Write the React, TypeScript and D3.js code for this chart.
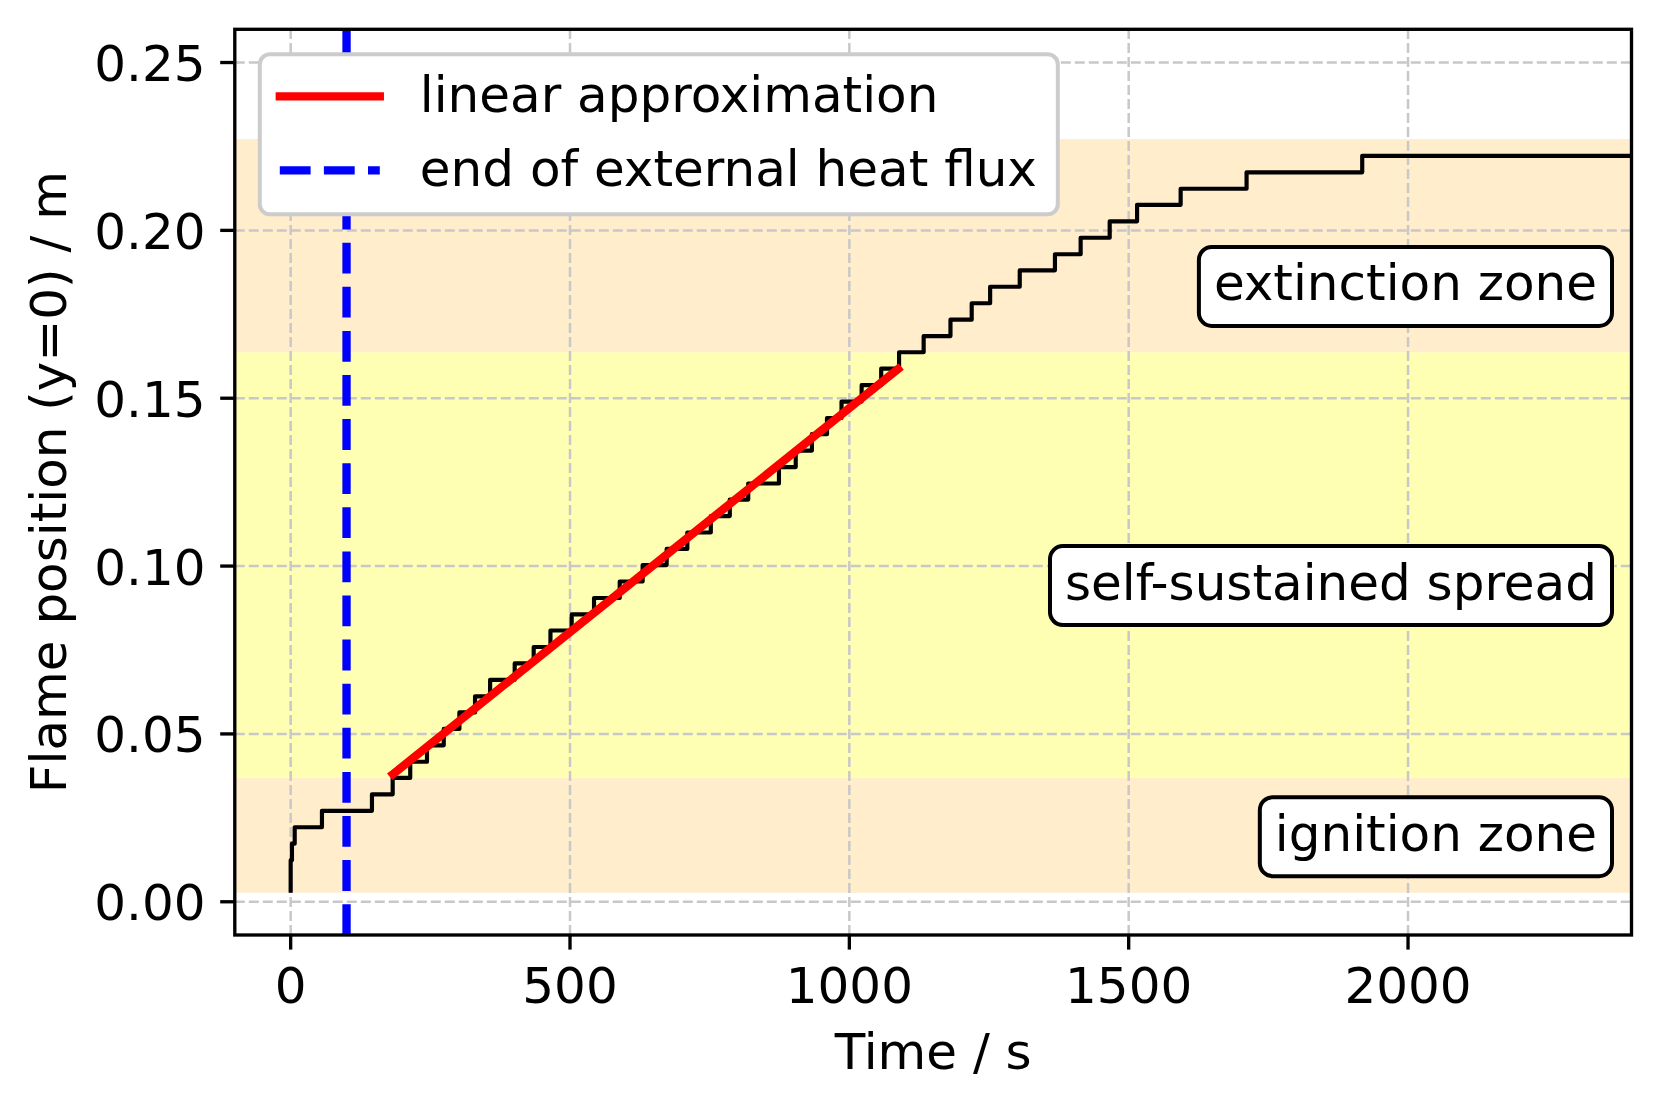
import React, { useRef, useEffect } from 'react';
import * as d3 from 'd3';

// ─── 数据 ────────────────────────────────────────────────────
// flame front position (y=0) vs time
const stepTimes = [
  0, 0, 0, 2.3, 7.2, 56, 145.5, 182.6, 214, 244, 274, 302, 330, 357, 401, 435,
  465, 503, 543, 589, 630, 673, 710, 752, 786, 819, 874, 904, 933, 960, 986,
  1022, 1057, 1089, 1133, 1181, 1219, 1252, 1305, 1368, 1414, 1466, 1515,
  1593, 1711, 1918, 2400,
];
const stepPositions = [
  0.0027, 0.0076, 0.0124, 0.0173, 0.0222, 0.0271, 0.0320, 0.0369, 0.0417,
  0.0466, 0.0515, 0.0564, 0.0612, 0.0661, 0.0710, 0.0759, 0.0808, 0.0856,
  0.0905, 0.0954, 0.1003, 0.1051, 0.1100, 0.1149, 0.1198, 0.1246, 0.1295,
  0.1344, 0.1393, 0.1441, 0.1490, 0.1539, 0.1588, 0.1637, 0.1685, 0.1734,
  0.1783, 0.1832, 0.1881, 0.1929, 0.1978, 0.2027, 0.2076, 0.2124, 0.2173,
  0.2222, 0.2222,
];

// linear fit over the self-sustained part
const fitTimes = [183, 1087];
const fitPositions = [0.038, 0.1587];

const heatFluxEndTime = 100;

const zoneNames = ['ignition zone', 'self-sustained spread', 'extinction zone'];
const zoneBottoms = [0.0027, 0.0369, 0.1637];
const zoneTops = [0.0369, 0.1637, 0.2272];
const zoneLabelPositions = [0.0194, 0.0942, 0.1833];

const xTicks = [0, 500, 1000, 1500, 2000];
const yTicks = [0, 0.05, 0.1, 0.15, 0.2, 0.25];

const legendLabels = ['linear approximation', 'end of external heat flux'];

// ─── 样式 ────────────────────────────────────────────────────
const W = 1659;
const H = 1107;
const FONT = '"DejaVu Sans", sans-serif';
const FS = 50;
const zoneFills = ['#ffedcc', '#ffffb3', '#ffedcc'];

const plot = { left: 234.8, right: 1631.5, top: 29.3, bottom: 935 };

const App: React.FC = () => {
  const svgRef = useRef<SVGSVGElement>(null);

  useEffect(() => {
    if (!svgRef.current) return;
    const svg = d3.select(svgRef.current);
    svg.selectAll('*').remove();

    const x = d3.scaleLinear().domain([-100, 2400]).range([plot.left, plot.right]);
    const y = d3.scaleLinear().domain([-0.0099, 0.2599]).range([plot.bottom, plot.top]);

    svg.append('rect').attr('width', W).attr('height', H).attr('fill', '#fff');

    svg.append('defs').append('clipPath').attr('id', 'plotClip')
      .append('rect')
      .attr('x', plot.left).attr('y', plot.top)
      .attr('width', plot.right - plot.left)
      .attr('height', plot.bottom - plot.top);

    const g = svg.append('g').attr('clip-path', 'url(#plotClip)');

    // ─── 区域色带 ───
    zoneNames.forEach((_, i) => {
      g.append('rect')
        .attr('x', plot.left)
        .attr('width', plot.right - plot.left)
        .attr('y', y(zoneTops[i]))
        .attr('height', y(zoneBottoms[i]) - y(zoneTops[i]))
        .attr('fill', zoneFills[i]);
    });

    // ─── 网格 ───
    xTicks.forEach(t => {
      g.append('line')
        .attr('x1', x(t)).attr('x2', x(t))
        .attr('y1', plot.bottom).attr('y2', plot.top)
        .attr('stroke', '#c8c8c8').attr('stroke-width', 2.5)
        .attr('stroke-dasharray', '10,4');
    });
    yTicks.forEach(v => {
      g.append('line')
        .attr('x1', plot.left).attr('x2', plot.right)
        .attr('y1', y(v)).attr('y2', y(v))
        .attr('stroke', '#c8c8c8').attr('stroke-width', 2.5)
        .attr('stroke-dasharray', '10,4');
    });

    // ─── 火焰位置阶梯线 ───
    const stepLine = d3.line<number>()
      .x((_, i) => x(stepTimes[i]))
      .y(d => y(d))
      .curve(d3.curveStepAfter);

    g.append('path')
      .attr('d', stepLine(stepPositions))
      .attr('fill', 'none')
      .attr('stroke', '#000')
      .attr('stroke-width', 4.17)
      .attr('stroke-linejoin', 'round');

    // ─── 线性拟合 ───
    const fitLine = d3.line<number>()
      .x((_, i) => x(fitTimes[i]))
      .y(d => y(d));

    g.append('path')
      .attr('d', fitLine(fitPositions))
      .attr('fill', 'none')
      .attr('stroke', '#ff0000')
      .attr('stroke-width', 8.33)
      .attr('stroke-linecap', 'square');

    // ─── 外部热流结束 ───
    g.append('line')
      .attr('x1', x(heatFluxEndTime)).attr('x2', x(heatFluxEndTime))
      .attr('y1', plot.bottom).attr('y2', plot.top)
      .attr('stroke', '#0000ff')
      .attr('stroke-width', 8.33)
      .attr('stroke-dasharray', '30.8,13.3');

    // ─── 坐标轴框 ───
    svg.append('rect')
      .attr('x', plot.left).attr('y', plot.top)
      .attr('width', plot.right - plot.left)
      .attr('height', plot.bottom - plot.top)
      .attr('fill', 'none')
      .attr('stroke', '#000')
      .attr('stroke-width', 3.33);

    // ─── 刻度 ───
    xTicks.forEach(t => {
      svg.append('line')
        .attr('x1', x(t)).attr('x2', x(t))
        .attr('y1', plot.bottom).attr('y2', plot.bottom + 14.6)
        .attr('stroke', '#000').attr('stroke-width', 3.33);
      svg.append('text')
        .attr('x', x(t)).attr('y', 1003)
        .attr('text-anchor', 'middle')
        .attr('font-family', FONT).attr('font-size', FS)
        .attr('fill', '#000')
        .text(d3.format('d')(t));
    });
    yTicks.forEach(v => {
      svg.append('line')
        .attr('x1', plot.left - 14.6).attr('x2', plot.left)
        .attr('y1', y(v)).attr('y2', y(v))
        .attr('stroke', '#000').attr('stroke-width', 3.33);
      svg.append('text')
        .attr('x', plot.left - 29.2).attr('y', y(v) + 18.5)
        .attr('text-anchor', 'end')
        .attr('font-family', FONT).attr('font-size', FS)
        .attr('fill', '#000')
        .text(d3.format('.2f')(v));
    });

    // ─── 轴标题 ───
    svg.append('text')
      .attr('x', (plot.left + plot.right) / 2).attr('y', 1069)
      .attr('text-anchor', 'middle')
      .attr('font-family', FONT).attr('font-size', FS)
      .text('Time / s');

    svg.append('text')
      .attr('transform', `translate(65.6,${(plot.top + plot.bottom) / 2}) rotate(-90)`)
      .attr('text-anchor', 'middle')
      .attr('font-family', FONT).attr('font-size', FS)
      .text('Flame position (y=0) / m');

    // ─── 区域标签 ───
    zoneNames.forEach((name, i) => {
      const cy = y(zoneLabelPositions[i]);
      const right = 1597;
      const box = svg.append('rect');
      const txt = svg.append('text')
        .attr('x', right).attr('y', cy + 14)
        .attr('text-anchor', 'end')
        .attr('font-family', FONT).attr('font-size', FS)
        .text(name);
      const w = (txt.node() as SVGTextElement).getComputedTextLength();
      box
        .attr('x', right - w - 15).attr('y', cy - 39.5)
        .attr('width', w + 30).attr('height', 79)
        .attr('rx', 13)
        .attr('fill', '#fff')
        .attr('stroke', '#000')
        .attr('stroke-width', 4);
    });

    // ─── 图例 ───
    const lx = plot.left + 25;
    const ly = plot.top + 25;
    const legend = svg.append('g');
    legend.append('rect')
      .attr('x', lx).attr('y', ly)
      .attr('width', 798).attr('height', 160)
      .attr('rx', 10)
      .attr('fill', '#fff')
      .attr('stroke', '#cccccc')
      .attr('stroke-width', 4);

    const rowY = [ly + 42, ly + 116];
    const handleStyles = [
      { color: '#ff0000', dash: null as string | null, cap: 'square' },
      { color: '#0000ff', dash: '30.8,13.3', cap: 'butt' },
    ];
    legendLabels.forEach((label, i) => {
      const hl = legend.append('line')
        .attr('x1', lx + 20).attr('x2', lx + 120)
        .attr('y1', rowY[i]).attr('y2', rowY[i])
        .attr('stroke', handleStyles[i].color)
        .attr('stroke-width', 8.33)
        .attr('stroke-linecap', handleStyles[i].cap);
      if (handleStyles[i].dash) hl.attr('stroke-dasharray', handleStyles[i].dash);
      legend.append('text')
        .attr('x', lx + 160).attr('y', rowY[i] + 16)
        .attr('font-family', FONT).attr('font-size', FS)
        .text(label);
    });
  }, []);

  return (
    <svg
      ref={svgRef}
      width={W}
      height={H}
      style={{ position: 'absolute', left: 0, top: 0, display: 'block' }}
    />
  );
};

export default App;
